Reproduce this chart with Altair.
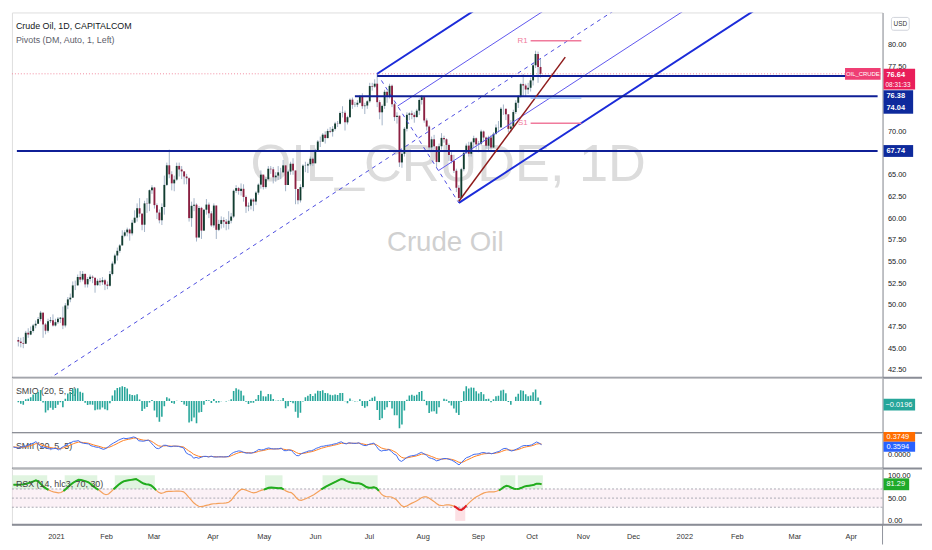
import json
import altair as alt
import pandas as pd

# ---------------- daily candles: Dec 7 2020 .. Oct 7 2021 (one bar per trading day) ----------------
first_open = 45.95
dec_close = [45.76, 45.60, 45.52, 46.78, 46.57, 46.99, 47.62, 47.82, 48.36, 49.10, 47.74, 47.02, 48.12, 48.23, 47.62, 48.00, 48.40, 48.52]
dec_high = [46.3, 46.2, 46.3, 47.0, 47.3, 47.5, 47.8, 48.2, 48.6, 49.3, 48.8, 47.9, 48.4, 48.6, 48.9, 48.4, 48.6, 48.6]
dec_low = [45.2, 45.1, 45.0, 45.5, 46.2, 46.5, 46.8, 47.3, 47.8, 48.1, 46.2, 46.6, 46.8, 47.9, 47.5, 47.5, 47.8, 47.9]

jan_close = [47.62, 49.93, 50.63, 50.83, 52.24, 52.25, 53.21, 52.91, 53.57, 52.36, 52.98, 53.24, 53.13, 52.27, 52.77, 52.61, 52.85, 52.34, 52.20]
jan_high = [49.8, 50.2, 50.9, 51.3, 52.7, 52.8, 53.5, 53.9, 53.9, 53.6, 53.2, 53.5, 53.4, 53.1, 53.0, 53.1, 53.2, 53.0, 52.7]
jan_low = [47.2, 47.4, 49.5, 50.3, 50.8, 51.7, 52.2, 52.6, 52.7, 52.0, 52.0, 52.7, 52.5, 51.4, 52.2, 52.2, 52.3, 51.7, 51.8]

feb_close = [53.55, 54.76, 55.69, 56.23, 56.85, 57.97, 58.36, 58.68, 58.24, 59.47, 60.05, 61.14, 60.52, 59.24, 61.70, 61.67, 63.22, 63.53, 61.50]
feb_high = [53.9, 55.0, 55.9, 56.6, 57.0, 58.6, 58.6, 58.9, 58.8, 59.8, 60.9, 61.7, 62.3, 60.5, 62.0, 62.3, 63.3, 63.8, 63.6]
feb_low = [52.1, 53.4, 54.6, 55.1, 56.0, 56.9, 57.8, 57.9, 57.4, 58.0, 59.4, 59.6, 60.1, 58.6, 58.4, 60.6, 60.8, 62.8, 61.1]

mar_close = [60.64, 59.75, 61.28, 63.83, 66.09, 65.05, 64.01, 64.44, 66.02, 65.61, 65.39, 64.80, 64.60, 60.00, 61.42, 61.55, 57.76, 61.18, 58.56, 60.97, 61.56, 60.55, 59.16]
mar_high = [61.7, 61.0, 61.7, 64.9, 66.4, 67.9, 65.4, 64.9, 66.4, 66.4, 66.0, 65.3, 65.1, 64.7, 61.9, 62.3, 61.7, 61.4, 61.3, 61.0, 62.2, 61.8, 60.8]
mar_low = [59.9, 59.4, 59.2, 60.4, 63.7, 64.6, 63.2, 63.1, 64.3, 64.8, 64.5, 63.9, 63.9, 59.6, 59.0, 60.8, 57.3, 58.1, 57.6, 58.8, 60.4, 60.0, 59.0]

apr_close = [61.45, 58.65, 59.33, 59.77, 59.60, 59.32, 59.70, 60.18, 63.15, 63.46, 63.13, 63.38, 62.44, 61.35, 61.43, 62.14, 61.91, 62.94, 63.86, 65.01, 63.58]
apr_high = [61.7, 61.2, 59.8, 60.2, 60.1, 59.9, 60.8, 60.6, 63.3, 63.8, 63.6, 64.0, 63.9, 62.6, 61.8, 62.3, 62.3, 63.1, 64.0, 65.5, 64.5]
apr_low = [58.9, 57.6, 58.5, 58.8, 58.9, 58.6, 58.7, 59.4, 60.0, 62.9, 62.7, 62.6, 61.9, 60.6, 60.8, 61.0, 60.8, 61.5, 62.7, 63.4, 63.3]

may_close = [64.49, 65.69, 65.63, 64.71, 64.90, 65.28, 65.28, 66.08, 63.82, 65.37, 66.27, 65.49, 63.36, 62.05, 63.58, 66.05, 66.07, 66.21, 66.85, 66.32]
may_high = [64.7, 66.0, 66.0, 65.9, 65.3, 66.0, 65.8, 66.7, 66.0, 65.6, 66.5, 66.9, 65.2, 63.3, 63.9, 66.2, 66.5, 66.4, 67.1, 67.0]
may_low = [63.4, 64.4, 65.1, 64.0, 64.2, 64.4, 64.5, 65.2, 63.1, 64.0, 65.0, 65.0, 61.6, 61.6, 61.8, 63.4, 65.3, 65.2, 66.0, 66.0]

jun_close = [67.72, 68.83, 68.81, 69.62, 69.23, 70.05, 69.96, 70.29, 70.91, 70.88, 72.12, 72.15, 71.04, 71.64, 73.66, 73.06, 73.08, 73.30, 74.05, 72.91, 72.98, 73.47]
jun_high = [68.0, 69.0, 69.4, 69.8, 70.0, 70.3, 70.5, 70.6, 71.1, 71.2, 72.3, 72.9, 72.4, 71.8, 73.8, 73.9, 73.4, 73.6, 74.2, 74.4, 73.3, 73.6]
jun_low = [66.6, 67.9, 68.2, 68.9, 68.6, 69.2, 69.8, 69.4, 70.1, 70.5, 70.8, 71.6, 70.1, 70.8, 71.6, 72.6, 72.8, 72.8, 73.2, 72.6, 72.0, 72.6]

jul_close = [75.23, 75.16, 75.50, 73.37, 72.20, 72.94, 74.56, 74.10, 75.25, 73.13, 71.65, 71.81, 66.42, 67.42, 70.30, 71.91, 72.07, 71.91, 71.65, 72.39, 73.62, 73.95]
jul_high = [75.6, 75.6, 76.0, 76.65, 73.6, 73.1, 74.8, 74.7, 75.5, 75.4, 73.3, 72.2, 71.6, 67.9, 70.5, 72.2, 72.2, 72.4, 72.2, 72.6, 73.8, 74.2]
jul_low = [73.3, 74.7, 75.0, 72.8, 71.4, 70.7, 72.6, 73.3, 73.8, 72.8, 71.2, 70.9, 65.9, 65.8, 67.1, 70.0, 71.3, 71.4, 71.0, 71.6, 71.9, 73.1]

aug_close = [71.26, 70.56, 68.15, 69.09, 68.28, 66.48, 68.29, 69.25, 69.09, 68.44, 67.29, 66.59, 65.46, 63.50, 62.32, 65.64, 67.54, 68.36, 67.42, 68.74, 69.21, 68.50]
aug_high = [74.0, 71.5, 70.7, 69.4, 69.6, 68.2, 68.6, 69.8, 69.5, 69.2, 68.6, 67.6, 67.3, 65.7, 63.8, 65.8, 67.6, 68.6, 68.8, 68.9, 69.5, 69.3]
aug_low = [71.0, 70.1, 67.9, 67.8, 67.9, 65.9, 66.4, 67.9, 68.7, 67.9, 66.6, 66.3, 65.2, 63.0, 61.75, 62.3, 65.4, 67.4, 67.1, 67.1, 68.1, 67.9]

sep_close = [68.59, 69.99, 69.29, 68.35, 69.30, 68.14, 69.72, 70.45, 70.46, 72.61, 72.61, 71.97, 70.29, 70.56, 72.23, 73.30, 73.98, 75.45, 75.29, 74.83, 75.03]
sep_high = [68.9, 70.2, 70.1, 69.4, 69.5, 69.6, 69.9, 70.8, 71.2, 72.8, 73.1, 72.5, 71.8, 71.3, 72.5, 73.6, 74.2, 75.6, 76.6, 75.5, 75.6]
sep_low = [67.6, 68.4, 68.8, 68.0, 67.8, 67.9, 68.1, 69.6, 69.9, 70.5, 71.9, 71.3, 69.9, 69.9, 70.5, 72.0, 72.7, 73.9, 74.1, 74.0, 74.3]

oct_close = [75.88, 77.62, 78.93, 77.43, 76.64]
oct_high = [76.2, 77.9, 79.3, 79.2, 78.4]
oct_low = [74.6, 75.3, 77.3, 75.6, 76.2]

# momentum carried in from before the first visible bar (per-bar move, per-bar absolute move)
smi_seed = (0.18, 0.60)
rsx_seed = (0.35, 0.60)

# ---------------- axis labels ----------------
tick_pos = [17, 37, 56, 79.5, 100, 120.5, 142, 163.5, 185.5, 207, 227.5, 247.5, 268, 289, 312, 334.5]
tick_lab = ["2021", "Feb", "Mar", "Apr", "May", "Jun", "Jul", "Aug", "Sep", "Oct", "Nov", "Dec", "2022", "Feb", "Mar", "Apr"]
price_ticks = [42.5, 45.0, 47.5, 50.0, 52.5, 55.0, 57.5, 60.0, 62.5, 65.0, 70.0, 77.5, 80.0]

# ---------------- drawings ----------------
current_price = 76.64
hline_price = [67.74, 76.38, 74.04]
hline_start = [-0.58, 145, 136]
pf_a = (12, 41.4)     # pitchfork handle
pf_b = (145, 76.65)   # July high
pf_c = (178, 61.75)   # August low
trend_x = [178, 221]
trend_y = [61.95, 78.56]
piv_name = ["R1", "P", "S1"]
piv_val = [80.46, 73.85, 70.94]
piv_from, piv_to = 207, 227.5
tag_text = ["76.38", "74.04", "67.74"]
tag_pos = [74.06, 72.72, 67.74]

# ---------------- build tables ----------------
closes = dec_close + jan_close + feb_close + mar_close + apr_close + may_close + jun_close + jul_close + aug_close + sep_close + oct_close
highs = dec_high + jan_high + feb_high + mar_high + apr_high + may_high + jun_high + jul_high + aug_high + sep_high + oct_high
lows = dec_low + jan_low + feb_low + mar_low + apr_low + may_low + jun_low + jul_low + aug_low + sep_low + oct_low
N = len(closes)
opens = [first_open] + closes[:-1]
hi = [max(h, o, c) for h, o, c in zip(highs, opens, closes)]
lo = [min(l, o, c) for l, o, c in zip(lows, opens, closes)]
candles = pd.DataFrame({"i": list(range(N)), "o": opens, "h": hi, "l": lo, "c": closes})
candles["dir"] = ["up" if c >= o else "down" for o, c in zip(opens, closes)]


def ema_seeded(vals, n, seed):
    a = 2.0 / (n + 1.0)
    e = seed
    out = []
    for v in vals:
        e = a * v + (1.0 - a) * e
        out.append(e)
    return out


# SMI ergodic (20, 5, 5)
chg = [closes[0] - first_open] + [closes[k] - closes[k - 1] for k in range(1, N)]
num = ema_seeded(ema_seeded(chg, 20, smi_seed[0]), 5, smi_seed[0])
den = ema_seeded(ema_seeded([abs(v) for v in chg], 20, smi_seed[1]), 5, smi_seed[1])
smi = [n_ / d_ for n_, d_ in zip(num, den)]
sig = ema_seeded(smi, 5, smi_seed[0] / smi_seed[1])
osc = [s - g for s, g in zip(smi, sig)]


# Jurik RSX (14, hlc3)
def rsx_calc(src, length, seed):
    f18 = 3.0 / (length + 2.0); f20 = 1.0 - f18
    m0, a0 = 100.0 * seed[0], 100.0 * seed[1]
    f28 = f30 = f38 = f40 = f48 = f50 = m0
    f58 = f60 = f68 = f70 = f78 = f80 = a0
    out = []
    prev = 100.0 * src[0] - m0
    for v in src:
        f8 = 100.0 * v
        v8 = f8 - prev
        prev = f8
        f28 = f20 * f28 + f18 * v8; f30 = f18 * f28 + f20 * f30; vC = f28 * 1.5 - f30 * 0.5
        f38 = f20 * f38 + f18 * vC; f40 = f18 * f38 + f20 * f40; v10 = f38 * 1.5 - f40 * 0.5
        f48 = f20 * f48 + f18 * v10; f50 = f18 * f48 + f20 * f50; v14 = f48 * 1.5 - f50 * 0.5
        a = abs(v8)
        f58 = f20 * f58 + f18 * a; f60 = f18 * f58 + f20 * f60; v18 = f58 * 1.5 - f60 * 0.5
        f68 = f20 * f68 + f18 * v18; f70 = f18 * f68 + f20 * f70; v1C = f68 * 1.5 - f70 * 0.5
        f78 = f20 * f78 + f18 * v1C; f80 = f18 * f78 + f20 * f80; v20 = f78 * 1.5 - f80 * 0.5
        r = (v14 / v20 + 1.0) * 50.0 if v20 > 1e-9 else 50.0
        out.append(min(max(r, 0.0), 100.0))
    return out


hlc3 = [(h + l + c) / 3.0 for h, l, c in zip(hi, lo, closes)]
rsx = rsx_calc(hlc3, 14, rsx_seed)

ind = pd.DataFrame({"i": list(range(N)), "osc": osc, "smi": smi, "sig": sig, "rsx": rsx})

# RSX state runs
state = ["g" if v > 70 else ("r" if v < 30 else "o") for v in rsx]
runs = []
s0 = 0
for k in range(1, N + 1):
    if k == N or state[k] != state[s0]:
        runs.append((state[s0], s0, k - 1))
        s0 = k
seg_rows, box_rows = [], []
for n_, (st, a, b) in enumerate(runs):
    if st == "o":
        continue
    for k in range(max(a - 1, 0), min(b + 1, N - 1) + 1):
        seg_rows.append({"i": k, "v": rsx[k], "seg": n_, "st": st})
    box_rows.append({"x0": a - 0.5, "x1": b + 0.5, "st": st,
                     "y0": 70 if st == "g" else 0, "y1": 100 if st == "g" else 30})
segs = pd.DataFrame(seg_rows, columns=["i", "v", "seg", "st"])
rsx_boxes = pd.DataFrame(box_rows, columns=["x0", "x1", "st", "y0", "y1"])

# pitchfork geometry
XDOM = [-0.58, 347.2]
PDOM = [41.6, 83.71]
ax_, ay_ = pf_a; bx_, by_ = pf_b; cx_, cy_ = pf_c
mx_, my_ = (bx_ + cx_) / 2, (by_ + cy_) / 2
slope = (my_ - ay_) / (mx_ - ax_)


def ray(x0, y0, kind):
    return {"x0": x0, "y0": y0, "x1": XDOM[1], "y1": y0 + slope * (XDOM[1] - x0), "kind": kind}


pf = pd.DataFrame([
    ray(ax_, ay_, "dash"),
    ray(bx_, by_, "thick"),
    ray(cx_, cy_, "thick"),
    ray((bx_ + mx_) / 2, (by_ + my_) / 2, "thin"),
    ray((mx_ + cx_) / 2, (my_ + cy_) / 2, "thin"),
    {"x0": bx_, "y0": by_, "x1": cx_, "y1": cy_, "kind": "dash"},
])
hl = pd.DataFrame({"p": hline_price, "x0": hline_start, "x1": [XDOM[1]] * len(hline_price)})
tr = pd.DataFrame({"x0": [trend_x[0]], "y0": [trend_y[0]], "x1": [trend_x[1]], "y1": [trend_y[1]]})
pv = pd.DataFrame({"name": piv_name, "p": piv_val, "x0": [piv_from] * 3, "x1": [piv_to] * 3})
tags = pd.DataFrame({"t": tag_text, "p": tag_pos})
cur = pd.DataFrame({"p": [current_price], "t": ["76.64"], "cd": ["08:31:33"], "s": ["OIL_CRUDE"]})
one = pd.DataFrame({"k": [0]})

# ---------------- style ----------------
W = 882
H1, H2, H3, H4 = 370, 56, 36, 57
FONT = "Liberation Sans"
UP, DOWN, WICK = "#123d30", "#8c2041", "#a3b3c7"
NAVY = "#0f1f96"
AXC = "#8f929b"
LBL = 7.5

xs = alt.Scale(domain=XDOM, nice=False, zero=False)
ys = alt.Scale(domain=PDOM, nice=False, zero=False)
price_axis = alt.Axis(orient="right", values=price_ticks, format=".2f", title=None, grid=False, ticks=False,
                      domainColor=AXC, labelFontSize=LBL, labelColor="#131722", labelPadding=5, labelFont=FONT)


def PX(f):
    return alt.X(f, type="quantitative", scale=xs, axis=None)


def PY(f):
    return alt.Y(f, type="quantitative", scale=ys, axis=price_axis)


def sep_rule(h):
    return alt.Chart(one).mark_rule(color="#8a8d96", strokeWidth=2).encode(
        x=alt.value(0), x2=alt.value(W + 40), y=alt.value(h))


def label_text(txt, x, y, size=9, color="#444444", weight="normal"):
    return alt.Chart(pd.DataFrame({"t": [txt]})).mark_text(
        fontSize=size, color=color, align="left", baseline="middle", fontWeight=weight).encode(
        x=alt.value(x), y=alt.value(y), text="t:N")


# ---------------- main panel ----------------
wm1 = alt.Chart(pd.DataFrame({"t": ["OIL_CRUDE, 1D"]})).mark_text(
    fontSize=53, color="#dcdcdc", align="center", baseline="middle").encode(
    x=alt.value(442), y=alt.value(155), text="t:N")
wm2 = alt.Chart(pd.DataFrame({"t": ["Crude Oil"]})).mark_text(
    fontSize=28, color="#d0d0d0", align="center", baseline="middle").encode(
    x=alt.value(439), y=alt.value(234), text="t:N")

cur_line = alt.Chart(cur).mark_rule(color="#f28aa0", strokeDash=[1, 2], strokeWidth=1).encode(
    x=alt.value(0), x2=alt.value(W), y=PY("p"))

wicks = alt.Chart(candles).mark_rule(color=WICK, strokeWidth=1).encode(x=PX("i"), y=PY("l"), y2="h")
bodies = alt.Chart(candles).mark_bar(size=1.9).encode(
    x=PX("i"), y=PY("o"), y2="c",
    color=alt.Color("dir:N", scale=alt.Scale(domain=["up", "down"], range=[UP, DOWN]), legend=None))

pf_thick = alt.Chart(pf).transform_filter("datum.kind == 'thick'").mark_rule(
    color="#1b2bd9", strokeWidth=2, clip=True).encode(x=PX("x0"), x2="x1", y=PY("y0"), y2="y1")
pf_thin = alt.Chart(pf).transform_filter("datum.kind == 'thin'").mark_rule(
    color="#5d55ee", strokeWidth=1, clip=True).encode(x=PX("x0"), x2="x1", y=PY("y0"), y2="y1")
pf_dash = alt.Chart(pf).transform_filter("datum.kind == 'dash'").mark_rule(
    color="#4b4be0", strokeWidth=1, strokeDash=[4, 4], clip=True).encode(x=PX("x0"), x2="x1", y=PY("y0"), y2="y1")

hlines = alt.Chart(hl).mark_rule(color=NAVY, strokeWidth=2).encode(x=PX("x0"), x2="x1", y=PY("p"))
trend = alt.Chart(tr).mark_rule(color="#8e1b1b", strokeWidth=1.5).encode(x=PX("x0"), x2="x1", y=PY("y0"), y2="y1")

piv_rs = alt.Chart(pv).transform_filter("datum.name != 'P'").mark_rule(color="#f07a9c", strokeWidth=1.5).encode(
    x=PX("x0"), x2="x1", y=PY("p"))
piv_p = alt.Chart(pv).transform_filter("datum.name == 'P'").mark_rule(color="#8fb6f5", strokeWidth=1.5).encode(
    x=PX("x0"), x2="x1", y=PY("p"))
piv_lab = alt.Chart(pv).transform_filter("datum.name != 'P'").mark_text(
    color="#f07a9c", fontSize=8, align="right", baseline="middle", dx=-3).encode(
    x=PX("x0"), y=PY("p"), text="name:N")

# price tags on the right scale
tag_box = alt.Chart(tags).mark_rect(color="#0e2a9c", yOffset=-6, y2Offset=6).encode(
    x=alt.value(W + 1), x2=alt.value(W + 31), y=PY("p"), y2="p")
tag_txt = alt.Chart(tags).mark_text(color="white", fontSize=7.5, fontWeight="bold", align="left", baseline="middle").encode(
    x=alt.value(W + 4), y=PY("p"), text="t:N")
cur_box = alt.Chart(cur).mark_rect(color="#e91e5a", yOffset=-5, y2Offset=16).encode(
    x=alt.value(W + 1), x2=alt.value(W + 33), y=PY("p"), y2="p")
cur_txt = alt.Chart(cur).mark_text(color="white", fontSize=7.5, fontWeight="bold", align="left", baseline="middle", dy=1.5).encode(
    x=alt.value(W + 4), y=PY("p"), text="t:N")
cur_cd = alt.Chart(cur).mark_text(color="white", fontSize=6.5, align="left", baseline="middle", dy=11).encode(
    x=alt.value(W + 3), y=PY("p"), text="cd:N")
sym_box = alt.Chart(cur).mark_rect(color="#ef3f74", yOffset=-6, y2Offset=6).encode(
    x=alt.value(W - 38), x2=alt.value(W - 2), y=PY("p"), y2="p")
sym_txt = alt.Chart(cur).mark_text(color="white", fontSize=6, align="center", baseline="middle").encode(
    x=alt.value(W - 20), y=PY("p"), text="s:N")
usd_box = alt.Chart(one).mark_rect(color="white", stroke="#d0d3da", strokeWidth=1, cornerRadius=2).encode(
    x=alt.value(W + 9), x2=alt.value(W + 27), y=alt.value(5), y2=alt.value(18))
usd_txt = alt.Chart(pd.DataFrame({"t": ["USD"]})).mark_text(color="#333333", fontSize=6.5, align="center", baseline="middle").encode(
    x=alt.value(W + 18), y=alt.value(11.5), text="t:N")

title1 = label_text("Crude Oil, 1D, CAPITALCOM", 4, 13.5, 9, "#131722")
title2 = label_text("Pivots (DM, Auto, 1, Left)", 4, 28, 9, "#5d606b")

main = alt.layer(
    wm1, wm2, cur_line, wicks, bodies, pf_dash, pf_thin, pf_thick, hlines, trend,
    piv_rs, piv_p, piv_lab, sym_box, sym_txt, tag_box, tag_txt, cur_box, cur_txt, cur_cd,
    usd_box, usd_txt, title1, title2, sep_rule(H1)
).properties(width=W, height=H1)

# ---------------- SMIO panel ----------------
ov = osc[5:]
k1 = max(-min(ov) / 28.0, max(ov) / 18.0)
smio_scale = alt.Scale(domain=[-33 * k1, 24 * k1], nice=False, zero=False)
smio_axis = alt.Axis(orient="right", labels=False, ticks=False, grid=False, title=None, domainColor=AXC)
smio_bars = alt.Chart(ind).mark_bar(size=1.6, color="#26a69a", clip=True).encode(
    x=PX("i"), y=alt.Y("osc:Q", scale=smio_scale, axis=smio_axis), y2=alt.datum(0))
last = ind.iloc[-1:]
smio_box = alt.Chart(last).mark_rect(color="#26a69a", yOffset=-6, y2Offset=6).encode(
    x=alt.value(W + 1), x2=alt.value(W + 33), y=alt.Y("osc:Q", scale=smio_scale, axis=smio_axis), y2="osc")
smio_txt = alt.Chart(last).transform_calculate(t="'\u22120.0196'").mark_text(
    color="white", fontSize=7.5, align="left", baseline="middle").encode(
    x=alt.value(W + 3), y=alt.Y("osc:Q", scale=smio_scale, axis=smio_axis), text="t:N")
smio_title = label_text("SMIO (20, 5, 5)", 4, 13.5)
p2 = alt.layer(smio_title, smio_bars, smio_box, smio_txt, sep_rule(H2)).properties(width=W, height=H2)

# ---------------- SMII panel ----------------
mx = max(smi[5:] + sig[5:])
k2 = mx / 18.0
smii_scale = alt.Scale(domain=[-14 * k2, 22 * k2], nice=False, zero=False)
smii_axis = alt.Axis(orient="right", values=[0], format=".4f", ticks=False, grid=False, title=None,
                     domainColor=AXC, labelFontSize=LBL, labelColor="#131722", labelPadding=5)
smii_sig = alt.Chart(ind).mark_line(color="#ff7f1f", strokeWidth=1, clip=True).encode(
    x=PX("i"), y=alt.Y("sig:Q", scale=smii_scale, axis=smii_axis))
smii_line = alt.Chart(ind).mark_line(color="#3f6bf0", strokeWidth=1, clip=True).encode(
    x=PX("i"), y=alt.Y("smi:Q", scale=smii_scale, axis=smii_axis))
smii_box_o = alt.Chart(last).mark_rect(color="#ff6d00", yOffset=-13, y2Offset=-3).encode(
    x=alt.value(W + 1), x2=alt.value(W + 33), y=alt.Y("smi:Q", scale=smii_scale, axis=smii_axis), y2="smi")
smii_txt_o = alt.Chart(last).transform_calculate(t="'0.3749'").mark_text(
    color="white", fontSize=7.5, align="left", baseline="middle", dy=-8).encode(
    x=alt.value(W + 4), y=alt.Y("smi:Q", scale=smii_scale, axis=smii_axis), text="t:N")
smii_box_b = alt.Chart(last).mark_rect(color="#2962ff", yOffset=-3, y2Offset=7).encode(
    x=alt.value(W + 1), x2=alt.value(W + 33), y=alt.Y("smi:Q", scale=smii_scale, axis=smii_axis), y2="smi")
smii_txt_b = alt.Chart(last).transform_calculate(t="'0.3594'").mark_text(
    color="white", fontSize=7.5, align="left", baseline="middle", dy=2).encode(
    x=alt.value(W + 4), y=alt.Y("smi:Q", scale=smii_scale, axis=smii_axis), text="t:N")
smii_title = label_text("SMII (20, 5, 5)", 4, 13.5)
p3 = alt.layer(smii_title, smii_sig, smii_line, smii_box_o, smii_txt_o, smii_box_b, smii_txt_b,
               sep_rule(H3)).properties(width=W, height=H3)

# ---------------- RSX panel ----------------
expr = json.dumps(tick_lab) + "[indexof(" + json.dumps(tick_pos) + ", datum.value)]"
time_axis = alt.Axis(values=tick_pos, labelExpr=expr, orient="bottom", domain=False, ticks=False, grid=False,
                     labelFontSize=LBL, labelColor="#333333", labelPadding=8, labelOverlap=False,
                     labelFlush=False, title=None, labelFont=FONT)
rsx_scale = alt.Scale(domain=[-8.5, 114.9], nice=False, zero=False)
rsx_axis = alt.Axis(orient="right", values=[0, 50, 100], format=".2f", ticks=False, grid=False, title=None,
                    domainColor=AXC, labelFontSize=LBL, labelColor="#131722", labelPadding=5)


def BX(f):
    return alt.X(f, type="quantitative", scale=xs, axis=time_axis)


def RY(f):
    return alt.Y(f, type="quantitative", scale=rsx_scale, axis=rsx_axis)


levels = pd.DataFrame({"lv": [70, 50, 30]})
band = alt.Chart(pd.DataFrame({"a": [70], "b": [30]})).mark_rect(color="#f6dfeb", opacity=0.45).encode(
    x=alt.value(0), x2=alt.value(W), y=RY("a"), y2="b")
lv_rules = alt.Chart(levels).mark_rule(color="#a9a9b3", strokeDash=[2, 2], strokeWidth=1).encode(
    x=alt.value(0), x2=alt.value(W), y=RY("lv"))
zone_g = alt.Chart(rsx_boxes).transform_filter("datum.st == 'g'").mark_rect(color="#d3efd3", opacity=0.7).encode(
    x=BX("x0"), x2="x1", y=RY("y0"), y2="y1")
zone_r = alt.Chart(rsx_boxes).transform_filter("datum.st == 'r'").mark_rect(color="#fbd3d9", opacity=0.7).encode(
    x=BX("x0"), x2="x1", y=RY("y0"), y2="y1")
rsx_line = alt.Chart(ind).mark_line(color="#f4a05a", strokeWidth=1.2).encode(x=BX("i"), y=RY("rsx"))
hot_g = alt.Chart(segs).transform_filter("datum.st == 'g'").mark_line(color="#1fae1f", strokeWidth=2).encode(
    x=BX("i"), y=RY("v"), detail="seg:N")
hot_r = alt.Chart(segs).transform_filter("datum.st == 'r'").mark_line(color="#e01b24", strokeWidth=2).encode(
    x=BX("i"), y=RY("v"), detail="seg:N")
rsx_box = alt.Chart(last).mark_rect(color="#1faa2a", yOffset=-6, y2Offset=6).encode(
    x=alt.value(W + 1), x2=alt.value(W + 27), y=RY("rsx"), y2="rsx")
rsx_txt = alt.Chart(last).transform_calculate(t="'81.29'").mark_text(
    color="white", fontSize=7.5, align="left", baseline="middle").encode(
    x=alt.value(W + 4), y=RY("rsx"), text="t:N")
rsx_title = label_text("RSX (14, hlc3, 70, 30)", 4, 15.5)
vline = alt.Chart(one).mark_rule(color=AXC, strokeWidth=1).encode(
    x=alt.value(W), y=alt.value(H4), y2=alt.value(H4 + 20))
p4 = alt.layer(band, zone_g, zone_r, lv_rules, rsx_line, hot_g, hot_r, rsx_title, rsx_box, rsx_txt, vline,
               sep_rule(H4)).properties(width=W, height=H4)

chart = alt.vconcat(main, p2, p3, p4, spacing=0, bounds="flush").properties(padding=0).configure_view(
    stroke=None).configure(font=FONT)

chart.save("out.html", embed_options={"renderer": "svg", "actions": False})
